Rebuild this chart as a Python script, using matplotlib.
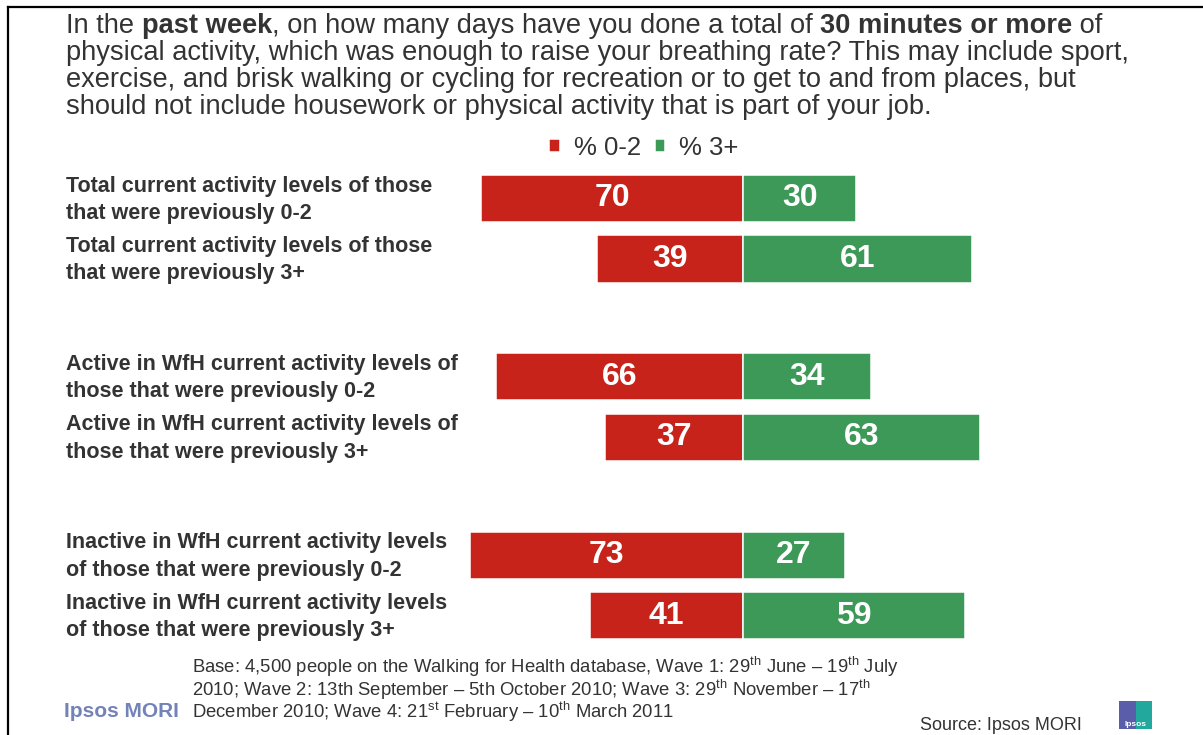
#!/usr/bin/env python3

import matplotlib.pyplot as plt
from matplotlib.lines import Line2D
from matplotlib.patches import Rectangle
from matplotlib.transforms import blended_transform_factory

plt.rcParams['font.family'] = ['Liberation Sans', 'DejaVu Sans']
plt.rcParams['mathtext.fontset'] = 'custom'
plt.rcParams['mathtext.rm'] = 'Liberation Sans'

# data
row_labels = [
    "Total current activity levels of those\nthat were previously 0-2",
    "Total current activity levels of those\nthat were previously 3+",
    "Active in WfH current activity levels of\nthose that were previously 0-2",
    "Active in WfH current activity levels of\nthose that were previously 3+",
    "Inactive in WfH current activity levels\nof those that were previously 0-2",
    "Inactive in WfH current activity levels\nof those that were previously 3+",
]
pct_low = [70, 39, 66, 37, 73, 41]     # % 0-2
pct_high = [30, 61, 34, 63, 27, 59]    # % 3+
series_names = ["% 0-2", "% 3+"]

RED = '#C8231A'
GREEN = '#3D9958'
TEXT = '#333333'

W, H = 1203, 735
fig = plt.figure(figsize=(W / 100, H / 100), dpi=100)
ax = fig.add_axes([0, 0, 1, 1])

px_per_pct = 3.75
zero_x = 743.5
row_px = 60.5
first_row_y = 198.5
ax.set_xlim(-zero_x / px_per_pct, (W - zero_x) / px_per_pct)
ax.set_ylim((H - first_row_y) / row_px, -first_row_y / row_px)
ax.axis('off')

# rows: pairs with a gap between groups
row_pos = [0, 1, 2.95, 3.95, 5.9, 6.9]

bars_low = ax.barh(row_pos, [-v for v in pct_low], height=0.777, color=RED,
                   edgecolor='white', linewidth=1.1, label=series_names[0])
bars_high = ax.barh(row_pos, pct_high, height=0.777, color=GREEN,
                    edgecolor='white', linewidth=1.1, label=series_names[1])

for y, lo, hi in zip(row_pos, pct_low, pct_high):
    ax.text(-lo / 2, y, str(lo), ha='center', va='center', color='white',
            fontsize=23, fontweight='bold')
    ax.text(hi / 2, y, str(hi), ha='center', va='center', color='white',
            fontsize=23, fontweight='bold')

lab_trans = blended_transform_factory(fig.transFigure, ax.transData)
for y, lab in zip(row_pos, row_labels):
    ax.text(66 / W, y + 0.02, lab, transform=lab_trans, ha='left', va='center',
            fontsize=15.5, fontweight='bold', color=TEXT, linespacing=1.4)

leg = ax.legend(handles=[bars_low, bars_high], loc='center',
                bbox_to_anchor=(644 / W, 1 - 148 / H),
                bbox_transform=fig.transFigure, ncol=2, frameon=False,
                fontsize=18.5, handlelength=0.4, handleheight=0.4,
                handletextpad=0.55, columnspacing=0.55, borderpad=0)
for t in leg.get_texts():
    t.set_color(TEXT)

# title with bold pieces
renderer = fig.canvas.get_renderer()
title_lines = [
    [("In the ", 'normal'), ("past week", 'bold'),
     (", on how many days have you done a total of ", 'normal'),
     ("30 minutes or more", 'bold'), (" of", 'normal')],
    [("physical activity, which was enough to raise your breathing rate? This may include sport,", 'normal')],
    [("exercise, and brisk walking or cycling for recreation or to get to and from places, but", 'normal')],
    [("should not include housework or physical activity that is part of your job.", 'normal')],
]
title_baselines = [33, 60, 87, 114]
for pieces, base in zip(title_lines, title_baselines):
    x = 66
    for txt, weight in pieces:
        t = fig.text(x / W, 1 - base / H, txt, fontsize=19.6, fontweight=weight,
                     color=TEXT, ha='left', va='baseline')
        x += t.get_window_extent(renderer).width

# footnote
foot_lines = [
    r"Base: 4,500 people on the Walking for Health database, Wave 1: 29$^{\rm th}$ June – 19$^{\rm th}$ July",
    r"2010; Wave 2: 13th September – 5th October 2010; Wave 3: 29$^{\rm th}$ November – 17$^{\rm th}$",
    r"December 2010; Wave 4: 21$^{\rm st}$ February – 10$^{\rm th}$ March 2011",
]
for line, base in zip(foot_lines, [673, 695.5, 718]):
    fig.text(192 / W, 1 - base / H, line, fontsize=13.3, color=TEXT,
             ha='left', va='baseline')

fig.text(920 / W, 1 - 730 / H, "Source: Ipsos MORI", fontsize=13,
         color=TEXT, ha='left', va='baseline')
fig.text(64 / W, 1 - 717 / H, "Ipsos MORI", fontsize=15, fontweight='bold',
         color='#7383B8', ha='left', va='baseline')

# small logo on the right
fig.add_artist(Rectangle((1119 / W, 1 - 729 / H), 17 / W, 28 / H,
                         transform=fig.transFigure, color='#5A5DAA', lw=0))
fig.add_artist(Rectangle((1136 / W, 1 - 729 / H), 16 / W, 28 / H,
                         transform=fig.transFigure, color='#22A89C', lw=0))
fig.text(1135.5 / W, 1 - 726 / H, "Ipsos", fontsize=6, color='white',
         ha='center', va='baseline', fontweight='bold')

# slide frame (left and top)
fig.add_artist(Line2D([8 / W, 8 / W], [0, 1 - 7 / H], transform=fig.transFigure,
                      color='black', lw=1.6))
fig.add_artist(Line2D([8 / W, 1], [1 - 7 / H, 1 - 7 / H], transform=fig.transFigure,
                      color='black', lw=1.6))

fig.savefig('out.png', dpi=100)
